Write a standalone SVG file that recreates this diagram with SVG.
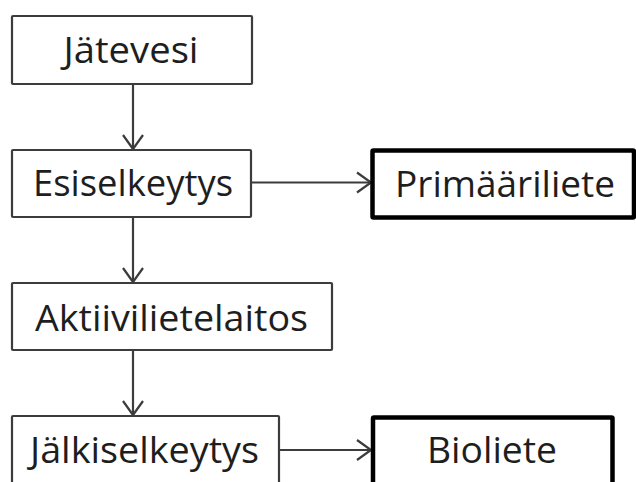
<svg xmlns="http://www.w3.org/2000/svg" width="636" height="482" viewBox="0 0 636 482">
  <style>
    .box { fill: #ffffff; stroke: #3c3c3c; stroke-width: 2.2; }
    .thick { fill: #ffffff; stroke: #000000; stroke-width: 4.5; }
    .lbl { font-family: "Open Sans", "Liberation Sans", sans-serif; font-size: 36px; fill: #1e1e1e; text-anchor: middle; }
    .conn { stroke: #3c3c3c; stroke-width: 2.2; fill: none; }
  </style>
  <defs>
    <marker id="arr" markerUnits="userSpaceOnUse" viewBox="0 0 18 24" markerWidth="18" markerHeight="24" refX="16" refY="12" orient="auto">
      <path d="M2,2 L16,12 L2,22" fill="none" stroke="#3c3c3c" stroke-width="2.2"/>
    </marker>
  </defs>
  <rect width="636" height="482" fill="#ffffff"/>

  <g id="connectors">
    <line class="conn" x1="133" y1="84" x2="133" y2="149" marker-end="url(#arr)"/>
    <line class="conn" x1="251" y1="182.5" x2="371" y2="182.5" marker-end="url(#arr)"/>
    <line class="conn" x1="133" y1="217" x2="133" y2="282" marker-end="url(#arr)"/>
    <line class="conn" x1="133" y1="350" x2="133" y2="415" marker-end="url(#arr)"/>
    <line class="conn" x1="279" y1="450" x2="371" y2="450" marker-end="url(#arr)"/>
  </g>

  <g id="jatevesi">
    <rect class="box" x="12" y="16" width="240" height="68" rx="1"/>
    <text class="lbl" x="131" y="63" textLength="135" lengthAdjust="spacingAndGlyphs">Jätevesi</text>
  </g>
  <g id="esiselkeytys">
    <rect class="box" x="12" y="150" width="239" height="67" rx="1"/>
    <text class="lbl" x="133" y="196" textLength="200" lengthAdjust="spacingAndGlyphs">Esiselkeytys</text>
  </g>
  <g id="primaariliete">
    <rect class="thick" x="372.5" y="150.5" width="261.5" height="67" rx="1"/>
    <text class="lbl" x="505" y="197" textLength="220" lengthAdjust="spacingAndGlyphs">Primääriliete</text>
  </g>
  <g id="aktiivilietelaitos">
    <rect class="box" x="12" y="283" width="320" height="67" rx="1"/>
    <text class="lbl" x="171.5" y="331" textLength="273" lengthAdjust="spacingAndGlyphs">Aktiivilietelaitos</text>
  </g>
  <g id="jalkiselkeytys">
    <rect class="box" x="12" y="416" width="267" height="80" rx="1"/>
    <text class="lbl" x="144.5" y="463" textLength="229" lengthAdjust="spacingAndGlyphs">Jälkiselkeytys</text>
  </g>
  <g id="bioliete">
    <rect class="thick" x="373" y="417.5" width="239.5" height="80" rx="1"/>
    <text class="lbl" x="492" y="463" textLength="130" lengthAdjust="spacingAndGlyphs">Bioliete</text>
  </g>
</svg>
